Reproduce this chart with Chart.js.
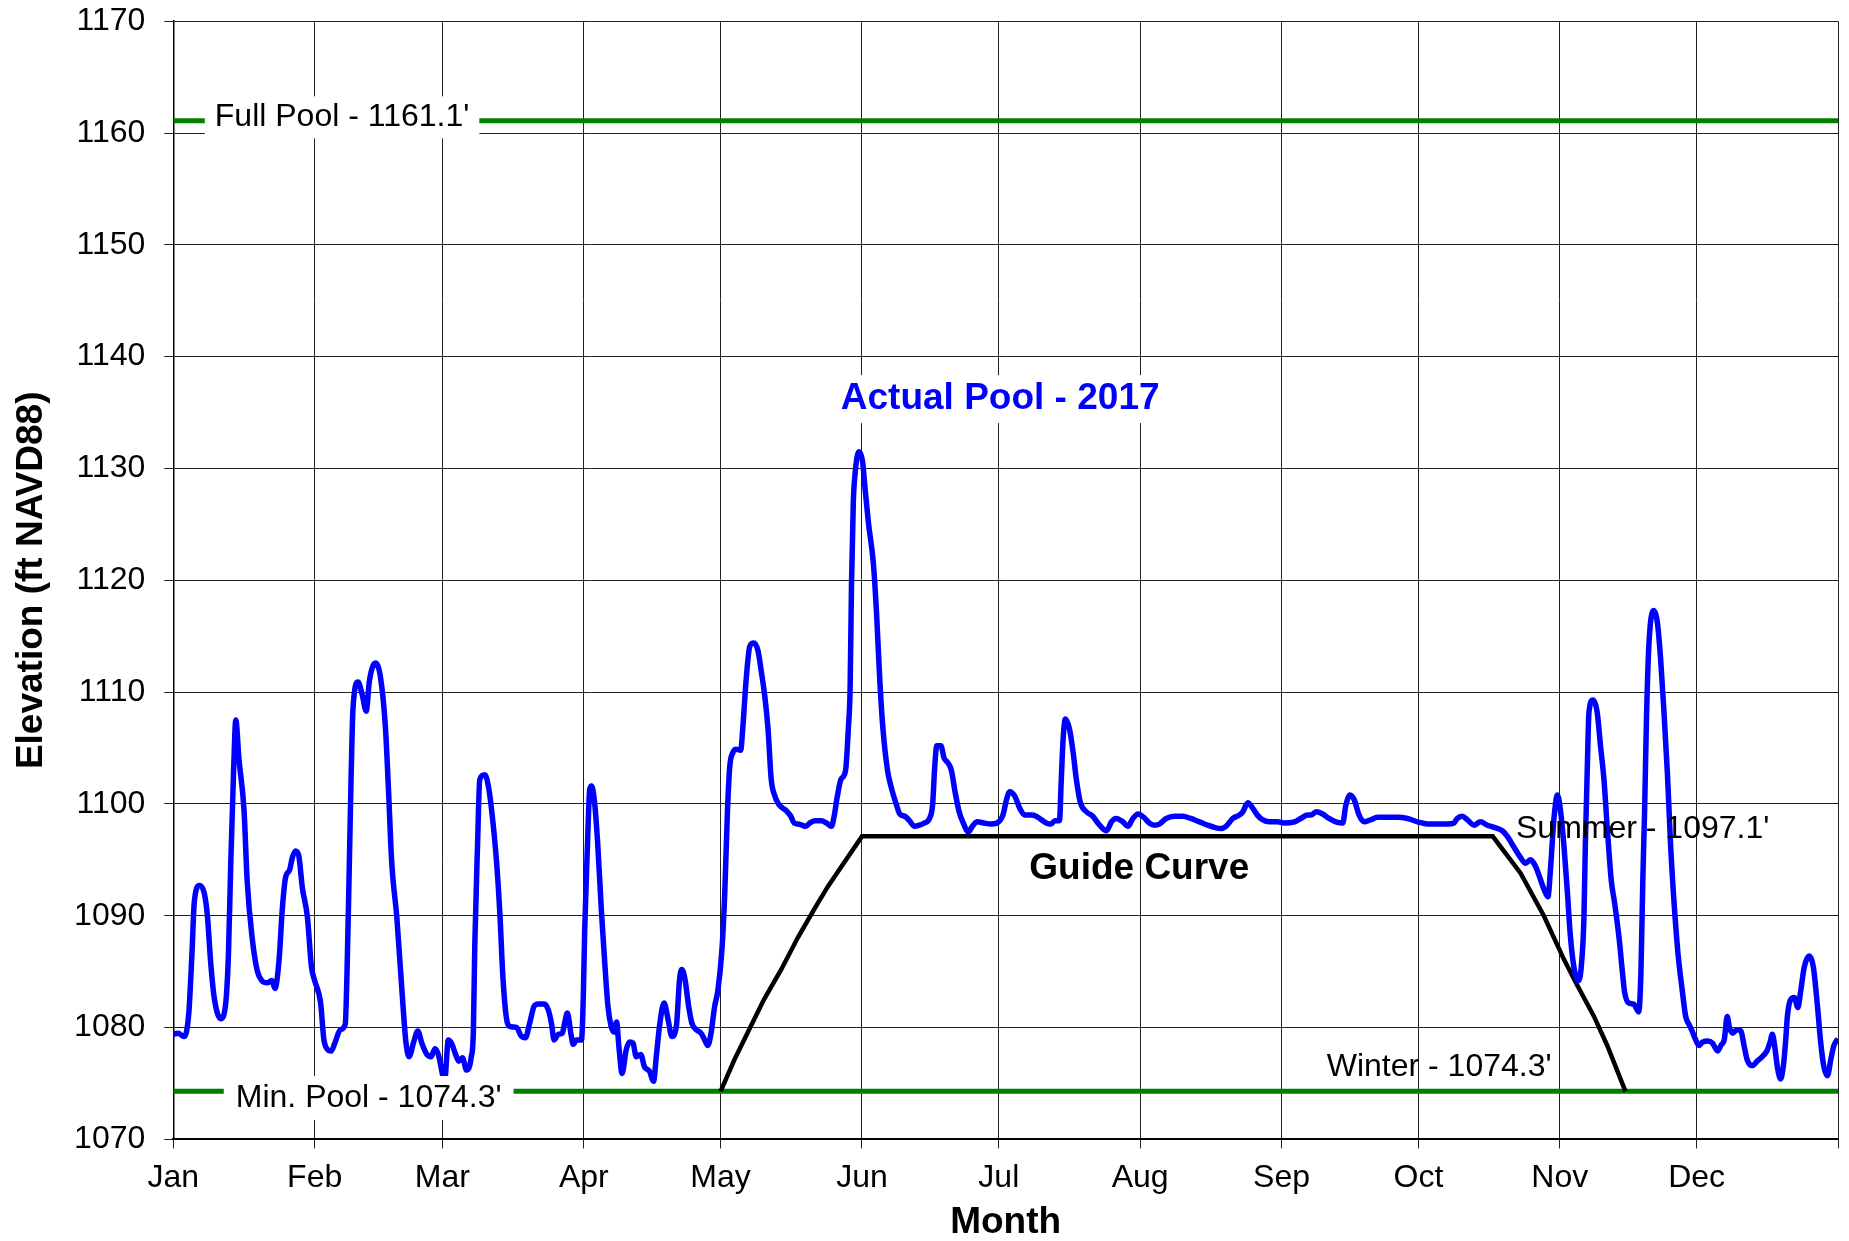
<!DOCTYPE html>
<html>
<head>
<meta charset="utf-8">
<title>Actual Pool - 2017</title>
<script src="https://cdn.jsdelivr.net/npm/chart.js@4.4.1/dist/chart.umd.min.js"></script>
<style>
  html, body { margin: 0; padding: 0; background: #fff; }
  #poolChart { display: block; }
</style>
</head>
<body>
<canvas id="poolChart" width="1849" height="1241"></canvas>
<script>
// ---------- Data: x = day of year (0 = Jan 1, 365 = Dec 31), y = elevation (ft NAVD88) ----------
const MONTHS = ['Jan', 'Feb', 'Mar', 'Apr', 'May', 'Jun', 'Jul', 'Aug', 'Sep', 'Oct', 'Nov', 'Dec'];
const MONTH_START = [0, 31, 59, 90, 120, 151, 181, 212, 243, 273, 304, 334];
const YEAR_END = 365;
const Y_MIN = 1070, Y_MAX = 1170, Y_STEP = 10;

const FULL_POOL = 1161.1;
const MIN_POOL = 1074.3;

// Actual pool 2017
const actualDays = [
  0, 1, 2.4, 3.4, 4.1, 4.6, 5.7, 6.8, 7.5, 8.2, 9, 10.4, 11.5, 12.1, 12.6, 13.2, 13.7, 14.4, 15.5, 16.2,
  17.3, 18.4, 19.4, 20.6, 21.6, 22.3, 23.2, 23.9, 24.6, 25.5, 26.1, 26.8, 27.5, 28.3, 29.4, 30.3, 31, 32.3,
  33, 33.7, 34.6, 35.5, 36.6, 37.7, 38.1, 38.6, 39, 39.4, 40.5, 41.4, 42.3, 43, 44.3, 45.4, 46.5, 47.2,
  47.9, 49, 50.1, 51, 51.7, 52.7, 53.6, 54.5, 55.6, 56.5, 57.4, 58.1, 59.5, 60.3, 61, 61.9, 62.6, 63.4,
  64.3, 65.3, 65.8, 66.1, 66.7, 67.2, 68.3, 69.2, 70.1, 70.9, 71.6, 72.3, 73.1, 73.8, 75.3, 76.2, 77.2,
  78.2, 79.1, 80, 81.3, 82.2, 82.9, 83.5, 84.4, 85.3, 85.8, 86.4, 87.2, 87.7, 88.4, 89.5, 89.9, 90.2,
  90.8, 91.3, 91.7, 92.3, 93, 93.9, 94.6, 95.3, 96, 96.6, 97.2, 97.7, 98.4, 99.3, 100.1, 100.8, 101.5,
  102.5, 103.3, 104.4, 105.3, 105.9, 106.6, 107.6, 108.5, 109.3, 110.3, 111, 111.5, 112.2, 113, 113.7,
  114.7, 115.7, 116.5, 117.2, 117.9, 118.7, 119.4, 120.3, 120.9, 121.5, 122, 122.7, 123.4, 124.4, 124.9,
  125.6, 126.4, 127.3, 128.2, 128.9, 129.7, 130.4, 131.1, 131.9, 132.7, 133.7, 134.4, 135.4, 136.1, 137,
  137.9, 138.6, 139.6, 140.7, 142.1, 143.2, 144.3, 144.9, 145.6, 146.4, 147.4, 148, 148.4, 148.7, 149.1,
  149.5, 150.3, 151.1, 151.7, 152.4, 153.5, 154.2, 154.9, 155.6, 156.6, 157.4, 158.5, 159.3, 160.4,
  161.4, 162.5, 163.6, 164.7, 165.8, 166.5, 166.9, 167.4, 168.3, 169, 169.8, 170.6, 171.4, 172.3, 173.2,
  174.3, 175.2, 176.3, 177.7, 179.2, 180.6, 181.9, 182.7, 183.4, 184.5, 185.6, 186.7, 188.1, 189.2,
  190.3, 191.4, 192.4, 193.3, 194.3, 194.7, 195.1, 195.6, 196.5, 197.3, 198, 198.9, 200.2, 201.6, 203.1,
  204.6, 205.7, 206.7, 208.2, 209.3, 210.4, 211.5, 212.8, 214, 215.1, 216.2, 217.7, 219.5, 221.3, 223.1,
  225, 226.8, 228.3, 229.7, 230.8, 232.3, 233.7, 234.5, 235.6, 236.7, 237.7, 238.8, 240.3, 242.1, 243.6,
  245.8, 247.2, 248.7, 249.4, 250.7, 252, 253.4, 254.9, 256.4, 257.1, 258, 258.9, 260, 261.1, 262.6, 264,
  266.2, 268.4, 270.6, 272.8, 275, 277.2, 279.4, 280.8, 281.5, 282.6, 283.7, 285.2, 286.6, 288.1, 289.6,
  291.4, 292.5, 294, 295.4, 296.5, 297.6, 298.7, 299.8, 300.7, 301.4, 302, 302.7, 303.5, 304.3, 304.9,
  305.6, 306.3, 307.1, 308, 308.7, 309.3, 309.6, 310, 310.4, 311.3, 312.2, 312.9, 313.7, 314.4, 315.3,
  316, 317, 317.7, 318.2, 319.1, 320.2, 321.3, 321.8, 322.2, 322.6, 323, 323.5, 324.5, 325.4, 326.1,
  326.8, 327.6, 328.3, 329, 329.9, 330.8, 331.6, 332.3, 333, 333.8, 334.5, 335.3, 336.4, 337.5, 338.6,
  339.3, 340.1, 340.7, 341.2, 341.9, 342.8, 343.7, 344.4, 345.1, 346.2, 347.3, 348.4, 349.4, 350.1,
  350.6, 351.1, 351.7, 352.4, 353, 353.5, 353.9, 354.5, 355.4, 356.2, 356.8, 357.6, 358.7, 359.6, 360.5,
  361.2, 361.9, 362.7, 363.4, 364.1, 365
];
const actualElev = [
  1079.4, 1079.5, 1079.2, 1081.3, 1086.7, 1091.2, 1092.7, 1092, 1089.9, 1085.8, 1082.6, 1080.8, 1082.2, 1086.7, 1094.7, 1102.7, 1107.5, 1104, 1099.5, 1093.1,
  1088, 1085.1, 1084.2, 1084, 1084.2, 1083.5, 1086.1, 1090.6, 1093.4, 1094.1, 1095.2, 1095.8, 1095.4, 1092.5, 1089.9, 1085.4, 1084.2, 1082.2,
  1079, 1078.1, 1077.9, 1078.7, 1079.8, 1080.3, 1085.1, 1094.7, 1102.7, 1108.5, 1110.9, 1109.8, 1108.3, 1111, 1112.6, 1111.4, 1106.9, 1101.1,
  1094.7, 1089.9, 1083.5, 1078.7, 1077.4, 1078.7, 1079.7, 1078.6, 1077.6, 1077.4, 1078.1, 1077.6, 1075.3, 1078.9, 1078.6, 1077.6, 1077, 1077.3,
  1076.2, 1077.3, 1079.8, 1087.3, 1096.2, 1102.2, 1102.6, 1101.3, 1098.3, 1094.7, 1090.2, 1084.3, 1080.7, 1080.1, 1080, 1079.3, 1079.1,
  1080.5, 1081.9, 1082.1, 1082.1, 1081.6, 1080.4, 1078.9, 1079.4, 1079.5, 1080.4, 1081.3, 1079.4, 1078.5, 1078.9, 1078.9, 1082.8, 1088.7,
  1096.2, 1101.3, 1101.6, 1100.4, 1096.8, 1090.2, 1085.8, 1081.9, 1080.1, 1079.6, 1080.5, 1078.3, 1075.9, 1078, 1078.7, 1078.6, 1077.4,
  1077.6, 1076.5, 1076.1, 1075.2, 1077.4, 1080.1, 1082.2, 1080.7, 1079.2, 1080.1, 1084.3, 1085.2, 1084.3, 1081.9, 1080.4,
  1079.8, 1079.5, 1078.9, 1078.4, 1079.5, 1081.9, 1083.3, 1087, 1091.9, 1099.3, 1103.3, 1104.6, 1104.9, 1104.8, 1107,
  1111.1, 1114.1, 1114.4, 1113.7, 1111.9, 1109.6, 1106.7, 1102.2, 1100.7, 1100, 1099.6, 1099.4, 1098.9, 1098.3, 1098.2,
  1098.1, 1098, 1098.3, 1098.5, 1098.5, 1098.3, 1098, 1098.9, 1100.7, 1102.2, 1103, 1106.7, 1110.4, 1119.6, 1127,
  1129.6, 1131.5, 1130.7, 1128.1, 1125.2, 1121.5, 1117, 1111.1, 1106.7, 1103, 1101.5, 1100, 1099.1, 1098.9,
  1098.5, 1098, 1098.1, 1098.3, 1098.7, 1100, 1103, 1105.2, 1105.2, 1104.1, 1103.7, 1103, 1101.1, 1099.3, 1098.3,
  1097.5, 1098, 1098.4, 1098.3, 1098.2, 1098.3, 1099, 1100.4, 1101.1, 1100.7, 1099.6, 1099, 1099, 1098.9,
  1098.6, 1098.3, 1098.2, 1098.5, 1098.5, 1102.2, 1105.8, 1107.6, 1106.7, 1104.6, 1102.2, 1100.1, 1099.3, 1098.9, 1098.1,
  1097.6, 1098.4, 1098.7, 1098.4, 1098, 1098.7, 1099.1, 1098.8, 1098.3, 1098.1, 1098.2, 1098.7, 1098.9, 1098.9, 1098.7,
  1098.4, 1098.1, 1097.9, 1097.8, 1098, 1098.7, 1099, 1099.3, 1100.1, 1099.6, 1099, 1098.6, 1098.4, 1098.4, 1098.3,
  1098.4, 1098.7, 1099, 1099, 1099.3, 1099.1, 1098.7, 1098.4, 1098.3, 1099.9, 1100.8, 1100.4, 1099, 1098.4, 1098.6, 1098.8,
  1098.8, 1098.8, 1098.7, 1098.4, 1098.2, 1098.2, 1098.2, 1098.3, 1098.7, 1098.9, 1098.6, 1098.1, 1098.4, 1098.1, 1097.9,
  1097.6, 1097.1, 1096.1, 1095.2, 1094.7, 1095, 1094.4, 1093.2, 1092.2, 1091.7, 1094.4, 1098.6, 1100.8, 1098.9, 1096.3,
  1092.5, 1088.3, 1085.4, 1084.2, 1085.4, 1089.9, 1096.3, 1102.7, 1108.2, 1109.3, 1108.2, 1105.3, 1102.1, 1097.9, 1093.1,
  1091.2, 1088, 1085.1, 1083.2, 1082.2, 1082.1, 1081.4, 1085.1, 1093.1, 1099.5, 1107.5, 1113.9, 1117.3, 1116.2, 1113,
  1108.5, 1102.7, 1096.3, 1091.5, 1086.7, 1083.5, 1081, 1080.3, 1079.7, 1078.9, 1078.4, 1078.7, 1078.8, 1078.6, 1077.9,
  1078.4, 1079, 1081, 1080, 1079.5, 1079.8, 1079.7, 1078.4, 1077.1, 1076.6, 1077, 1077.4, 1077.9, 1078.7,
  1079.4, 1078.4, 1076.5, 1075.4, 1076.5, 1078.7, 1081, 1082.4, 1082.7, 1081.8, 1083.2, 1085.4, 1086.4, 1085.4, 1081.9,
  1078.7, 1076.5, 1075.7, 1077.1, 1078.4, 1079
];

// Guide curve: rise to summer level, hold, fall back to winter level
const guideDays = [120, 123, 126, 129.5, 133.3, 137, 140.7, 143.5, 146.5, 151, 289.3, 295.4, 300.5, 304.9, 307.8, 311.5, 314.4, 318.4];
const guideElev = [1074.3, 1077.1, 1079.6, 1082.5, 1085.2, 1088.1, 1090.7, 1092.6, 1094.4, 1097.1, 1097.1, 1093.8, 1090, 1086.1, 1083.8, 1081, 1078.4, 1074.3];

// ---------- Styling ----------
const FONT = "'Liberation Sans', Arial, Helvetica, sans-serif";
const BLUE = '#0000ff', GREEN = '#008000', GRID = '#222';

const toXY = (xs, ys) => xs.map((x, i) => ({ x, y: ys[i] }));

// text labels drawn on the plot (anchored in data units)
const LABELS = [
  { text: "Full Pool - 1161.1'", day: 9.1, elev: 1161.4, font: `32px ${FONT}`, color: '#000', box: [10, 21] },
  { text: "Min. Pool - 1074.3'", day: 13.7, elev: 1073.7, font: `32px ${FONT}`, color: '#000', box: [12, 22] },
  { text: 'Actual Pool - 2017', day: 181.3, elev: 1136.2, center: true, font: `bold 37px ${FONT}`, color: BLUE, box: [8, 24] },
  { text: 'Guide Curve', day: 211.8, elev: 1094.2, center: true, font: `bold 37px ${FONT}`, color: '#000' },
  { text: "Summer - 1097.1'", day: 294.4, elev: 1097.7, font: `32px ${FONT}`, color: '#000' },
  { text: "Winter - 1074.3'", day: 252.9, elev: 1076.45, font: `32px ${FONT}`, color: '#000' },
];

const labelPlugin = {
  id: 'poolLabels',
  afterDatasetsDraw(chart) {
    const { ctx, scales: { x, y } } = chart;
    ctx.save();
    ctx.textBaseline = 'middle';
    ctx.textAlign = 'left';
    LABELS.forEach(l => {
      ctx.font = l.font;
      const w = ctx.measureText(l.text).width;
      const px = x.getPixelForValue(l.day);
      const py = y.getPixelForValue(l.elev);
      const left = l.center ? px - w / 2 : px;
      if (l.box) {
        ctx.fillStyle = '#fff';
        ctx.fillRect(left - l.box[0], py - l.box[1], w + 2 * l.box[0], 2 * l.box[1]);
      }
      ctx.fillStyle = l.color;
      ctx.fillText(l.text, left, py);
    });
    ctx.restore();
  }
};

new Chart(document.getElementById('poolChart'), {
  type: 'line',
  data: {
    datasets: [
      { label: 'Actual Pool - 2017', data: toXY(actualDays, actualElev), borderColor: BLUE, borderWidth: 5.5,
        pointRadius: 0, tension: 0.4, cubicInterpolationMode: 'monotone' },
      { label: 'Guide Curve', data: toXY(guideDays, guideElev), borderColor: '#000', borderWidth: 4.5,
        pointRadius: 0, tension: 0 },
      { label: 'Full Pool', data: toXY([0, YEAR_END], [FULL_POOL, FULL_POOL]), borderColor: GREEN, borderWidth: 5, pointRadius: 0 },
      { label: 'Min. Pool', data: toXY([0, YEAR_END], [MIN_POOL, MIN_POOL]), borderColor: GREEN, borderWidth: 5, pointRadius: 0 },
    ],
  },
  options: {
    responsive: false,
    devicePixelRatio: 1,
    animation: false,
    layout: { padding: { top: 21.2, right: 9.5, bottom: 0, left: 0 } },
    plugins: { legend: { display: false }, tooltip: { enabled: false } },
    scales: {
      x: {
        type: 'linear', min: 0, max: YEAR_END,
        afterBuildTicks: s => { s.ticks = [...MONTH_START, YEAR_END].map(v => ({ value: v })); },
        afterFit: s => { s.height = 101.6; },
        ticks: {
          autoSkip: false, maxRotation: 0, padding: 11, color: '#000',
          font: { family: FONT, size: 32 },
          callback: v => { const i = MONTH_START.indexOf(v); return i >= 0 ? MONTHS[i] : ''; },
        },
        grid: { color: GRID, lineWidth: 1, tickLength: 9 },
        border: { color: '#000', width: 2 },
        title: { display: true, text: 'Month', color: '#000', padding: { top: 0, bottom: 0 },
                 font: { family: FONT, size: 37, weight: 'bold', lineHeight: 1 } },
      },
      y: {
        min: Y_MIN, max: Y_MAX,
        // fixed axis width; drop the label overflow padding so the plot top is set by layout padding
        afterFit: s => { s.width = 173.3; s.paddingTop = 0; s.paddingBottom = 0; },
        ticks: {
          stepSize: Y_STEP, padding: 19, color: '#000',
          font: { family: FONT, size: 32, lineHeight: 1 },
          callback: v => String(v),
        },
        grid: { color: GRID, lineWidth: 1, tickLength: 9 },
        border: { color: '#000', width: 1.5 },
        title: { display: true, text: 'Elevation (ft NAVD88)', color: '#000', padding: { top: 10, bottom: 0 },
                 font: { family: FONT, size: 37, weight: 'bold' } },
      },
    },
  },
  plugins: [labelPlugin],
});
</script>
</body>
</html>
